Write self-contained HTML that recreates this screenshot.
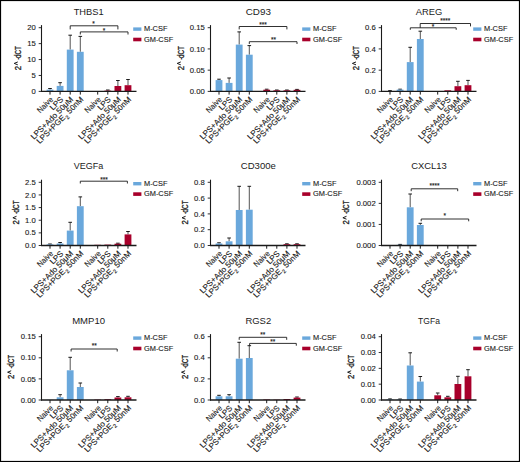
<!DOCTYPE html>
<html><head><meta charset="utf-8"><style>
html,body{margin:0;padding:0;background:#fff;}
svg{display:block;}
text{stroke:#1a1a1a;stroke-width:0.12px;}
g.yl text{stroke-width:0.3px;}
</style></head><body>
<svg width="520" height="462" viewBox="0 0 520 462" font-family='"Liberation Sans", sans-serif' fill="#1a1a1a">
<rect x="0" y="0" width="520" height="462" fill="#fff"/>
<g><text x="88.6" y="14.8" font-size="9.3" style="stroke:none" text-anchor="middle" textLength="29.9" lengthAdjust="spacingAndGlyphs">THBS1</text><g transform="translate(20.5,58.15) rotate(-90)" font-size="8.6" class="yl"><text x="-12" textLength="4.3" lengthAdjust="spacingAndGlyphs">2</text><path d="M-6.7,-2.7 L-5.25,-6.3 L-3.8,-2.7" fill="none" stroke="#1a1a1a" stroke-width="1"/><text x="-1.6" textLength="2" lengthAdjust="spacingAndGlyphs">-</text><text x="0.1" textLength="11.9" lengthAdjust="spacingAndGlyphs">dCT</text></g><line x1="38.7" y1="91.4" x2="41.5" y2="91.4" stroke="#1a1a1a" stroke-width="0.9"/><text x="35.7" y="94" font-size="7.7" text-anchor="end">0</text><line x1="38.7" y1="75.48" x2="41.5" y2="75.48" stroke="#1a1a1a" stroke-width="0.9"/><text x="35.7" y="78.08" font-size="7.7" text-anchor="end">5</text><line x1="38.7" y1="59.55" x2="41.5" y2="59.55" stroke="#1a1a1a" stroke-width="0.9"/><text x="35.7" y="62.15" font-size="7.7" text-anchor="end">10</text><line x1="38.7" y1="43.62" x2="41.5" y2="43.62" stroke="#1a1a1a" stroke-width="0.9"/><text x="35.7" y="46.23" font-size="7.7" text-anchor="end">15</text><line x1="38.7" y1="27.7" x2="41.5" y2="27.7" stroke="#1a1a1a" stroke-width="0.9"/><text x="35.7" y="30.3" font-size="7.7" text-anchor="end">20</text><line x1="50" y1="88.5" x2="50" y2="89.6" stroke="#1a1a1a" stroke-width="0.75"/><line x1="48.2" y1="88.5" x2="51.8" y2="88.5" stroke="#1a1a1a" stroke-width="1"/><rect x="46.6" y="89.6" width="6.8" height="1.8" fill="#6aa8dc"/><line x1="50" y1="91.4" x2="50" y2="94.6" stroke="#1a1a1a" stroke-width="1"/><text transform="translate(53.6,100) rotate(-45)" font-size="8.0" text-anchor="end"><tspan textLength="19" lengthAdjust="spacingAndGlyphs">Naive</tspan></text><line x1="60.1" y1="82.7" x2="60.1" y2="85.9" stroke="#1a1a1a" stroke-width="0.75"/><line x1="58.3" y1="82.7" x2="61.9" y2="82.7" stroke="#1a1a1a" stroke-width="1"/><rect x="56.7" y="85.9" width="6.8" height="5.5" fill="#6aa8dc"/><line x1="60.1" y1="91.4" x2="60.1" y2="94.6" stroke="#1a1a1a" stroke-width="1"/><text transform="translate(63.7,100) rotate(-45)" font-size="8.0" text-anchor="end">LPS</text><line x1="70.2" y1="35.2" x2="70.2" y2="49.6" stroke="#1a1a1a" stroke-width="0.75"/><line x1="68.4" y1="35.2" x2="72" y2="35.2" stroke="#1a1a1a" stroke-width="1"/><rect x="66.8" y="49.6" width="6.8" height="41.8" fill="#6aa8dc"/><line x1="70.2" y1="91.4" x2="70.2" y2="94.6" stroke="#1a1a1a" stroke-width="1"/><text transform="translate(73.8,100) rotate(-45)" font-size="8.0" text-anchor="end">LPS+Ado 50μM</text><line x1="80.3" y1="36.4" x2="80.3" y2="51.8" stroke="#1a1a1a" stroke-width="0.75"/><line x1="78.5" y1="36.4" x2="82.1" y2="36.4" stroke="#1a1a1a" stroke-width="1"/><rect x="76.9" y="51.8" width="6.8" height="39.6" fill="#6aa8dc"/><line x1="80.3" y1="91.4" x2="80.3" y2="94.6" stroke="#1a1a1a" stroke-width="1"/><text transform="translate(83.9,100) rotate(-45)" font-size="8.0" text-anchor="end">LPS+PGE<tspan font-size="5.6" dx="0.4" dy="2.4">2</tspan><tspan dy="-2.4"> 50nM</tspan></text><rect x="94.3" y="91" width="6.8" height="0.4" fill="#a8002b"/><line x1="97.7" y1="91.4" x2="97.7" y2="94.6" stroke="#1a1a1a" stroke-width="1"/><text transform="translate(101.3,100) rotate(-45)" font-size="8.0" text-anchor="end"><tspan textLength="19" lengthAdjust="spacingAndGlyphs">Naive</tspan></text><line x1="107.8" y1="90" x2="107.8" y2="90.6" stroke="#1a1a1a" stroke-width="0.75"/><line x1="106" y1="90" x2="109.6" y2="90" stroke="#1a1a1a" stroke-width="1"/><rect x="104.4" y="90.6" width="6.8" height="0.8" fill="#a8002b"/><line x1="107.8" y1="91.4" x2="107.8" y2="94.6" stroke="#1a1a1a" stroke-width="1"/><text transform="translate(111.4,100) rotate(-45)" font-size="8.0" text-anchor="end">LPS</text><line x1="117.9" y1="80.5" x2="117.9" y2="86" stroke="#1a1a1a" stroke-width="0.75"/><line x1="116.1" y1="80.5" x2="119.7" y2="80.5" stroke="#1a1a1a" stroke-width="1"/><rect x="114.5" y="86" width="6.8" height="5.4" fill="#a8002b"/><line x1="117.9" y1="91.4" x2="117.9" y2="94.6" stroke="#1a1a1a" stroke-width="1"/><text transform="translate(121.5,100) rotate(-45)" font-size="8.0" text-anchor="end">LPS+Ado 50μM</text><line x1="128" y1="79.5" x2="128" y2="85.2" stroke="#1a1a1a" stroke-width="0.75"/><line x1="126.2" y1="79.5" x2="129.8" y2="79.5" stroke="#1a1a1a" stroke-width="1"/><rect x="124.6" y="85.2" width="6.8" height="6.2" fill="#a8002b"/><line x1="128" y1="91.4" x2="128" y2="94.6" stroke="#1a1a1a" stroke-width="1"/><text transform="translate(131.6,100) rotate(-45)" font-size="8.0" text-anchor="end">LPS+PGE<tspan font-size="5.6" dx="0.4" dy="2.4">2</tspan><tspan dy="-2.4"> 50nM</tspan></text><line x1="41.5" y1="25.1" x2="41.5" y2="91.9" stroke="#1a1a1a" stroke-width="1.1"/><line x1="41" y1="91.4" x2="136.5" y2="91.4" stroke="#1a1a1a" stroke-width="1.35"/><path d="M70.2,29.4 L70.2,25.8 L117.9,25.8 L117.9,29.4" fill="none" stroke="#1a1a1a" stroke-width="0.9"/><text x="93.5" y="26" font-size="6.5" text-anchor="middle">*</text><path d="M80.3,34.5 L80.3,31.9 L128,31.9 L128,34.5" fill="none" stroke="#1a1a1a" stroke-width="0.9"/><text x="104.1" y="32.8" font-size="6.5" text-anchor="middle">*</text><rect x="133.2" y="27.4" width="8.2" height="3.4" fill="#6aa8dc"/><text x="144" y="31.1" font-size="7.4">M-CSF</text><rect x="133.2" y="37.7" width="8.2" height="3.6" fill="#a8002b"/><text x="144" y="41.6" font-size="7.4">GM-CSF</text></g>
<g><text x="258.3" y="14.8" font-size="9.3" style="stroke:none" text-anchor="middle" textLength="25.2" lengthAdjust="spacingAndGlyphs">CD93</text><g transform="translate(183.5,58.15) rotate(-90)" font-size="8.6" class="yl"><text x="-12" textLength="4.3" lengthAdjust="spacingAndGlyphs">2</text><path d="M-6.7,-2.7 L-5.25,-6.3 L-3.8,-2.7" fill="none" stroke="#1a1a1a" stroke-width="1"/><text x="-1.6" textLength="2" lengthAdjust="spacingAndGlyphs">-</text><text x="0.1" textLength="11.9" lengthAdjust="spacingAndGlyphs">dCT</text></g><line x1="207.7" y1="91.4" x2="210.5" y2="91.4" stroke="#1a1a1a" stroke-width="0.9"/><text x="204.7" y="94" font-size="7.7" text-anchor="end">0.00</text><line x1="207.7" y1="70.17" x2="210.5" y2="70.17" stroke="#1a1a1a" stroke-width="0.9"/><text x="204.7" y="72.77" font-size="7.7" text-anchor="end">0.05</text><line x1="207.7" y1="48.93" x2="210.5" y2="48.93" stroke="#1a1a1a" stroke-width="0.9"/><text x="204.7" y="51.53" font-size="7.7" text-anchor="end">0.10</text><line x1="207.7" y1="27.7" x2="210.5" y2="27.7" stroke="#1a1a1a" stroke-width="0.9"/><text x="204.7" y="30.3" font-size="7.7" text-anchor="end">0.15</text><line x1="219" y1="79.2" x2="219" y2="80.1" stroke="#1a1a1a" stroke-width="0.75"/><line x1="217.2" y1="79.2" x2="220.8" y2="79.2" stroke="#1a1a1a" stroke-width="1"/><rect x="215.6" y="80.1" width="6.8" height="11.3" fill="#6aa8dc"/><line x1="219" y1="91.4" x2="219" y2="94.6" stroke="#1a1a1a" stroke-width="1"/><text transform="translate(222.6,100) rotate(-45)" font-size="8.0" text-anchor="end"><tspan textLength="19" lengthAdjust="spacingAndGlyphs">Naive</tspan></text><line x1="229.1" y1="78" x2="229.1" y2="82.9" stroke="#1a1a1a" stroke-width="0.75"/><line x1="227.3" y1="78" x2="230.9" y2="78" stroke="#1a1a1a" stroke-width="1"/><rect x="225.7" y="82.9" width="6.8" height="8.5" fill="#6aa8dc"/><line x1="229.1" y1="91.4" x2="229.1" y2="94.6" stroke="#1a1a1a" stroke-width="1"/><text transform="translate(232.7,100) rotate(-45)" font-size="8.0" text-anchor="end">LPS</text><line x1="239.2" y1="31.9" x2="239.2" y2="44.6" stroke="#1a1a1a" stroke-width="0.75"/><line x1="237.4" y1="31.9" x2="241" y2="31.9" stroke="#1a1a1a" stroke-width="1"/><rect x="235.8" y="44.6" width="6.8" height="46.8" fill="#6aa8dc"/><line x1="239.2" y1="91.4" x2="239.2" y2="94.6" stroke="#1a1a1a" stroke-width="1"/><text transform="translate(242.8,100) rotate(-45)" font-size="8.0" text-anchor="end">LPS+Ado 50μM</text><line x1="249.3" y1="45.6" x2="249.3" y2="54.7" stroke="#1a1a1a" stroke-width="0.75"/><line x1="247.5" y1="45.6" x2="251.1" y2="45.6" stroke="#1a1a1a" stroke-width="1"/><rect x="245.9" y="54.7" width="6.8" height="36.7" fill="#6aa8dc"/><line x1="249.3" y1="91.4" x2="249.3" y2="94.6" stroke="#1a1a1a" stroke-width="1"/><text transform="translate(252.9,100) rotate(-45)" font-size="8.0" text-anchor="end">LPS+PGE<tspan font-size="5.6" dx="0.4" dy="2.4">2</tspan><tspan dy="-2.4"> 50nM</tspan></text><line x1="266.7" y1="89.2" x2="266.7" y2="89.7" stroke="#1a1a1a" stroke-width="0.75"/><line x1="264.9" y1="89.2" x2="268.5" y2="89.2" stroke="#1a1a1a" stroke-width="1"/><rect x="263.3" y="89.7" width="6.8" height="1.7" fill="#a8002b"/><line x1="266.7" y1="91.4" x2="266.7" y2="94.6" stroke="#1a1a1a" stroke-width="1"/><text transform="translate(270.3,100) rotate(-45)" font-size="8.0" text-anchor="end"><tspan textLength="19" lengthAdjust="spacingAndGlyphs">Naive</tspan></text><line x1="276.8" y1="90" x2="276.8" y2="90.3" stroke="#1a1a1a" stroke-width="0.75"/><line x1="275" y1="90" x2="278.6" y2="90" stroke="#1a1a1a" stroke-width="1"/><rect x="273.4" y="90.3" width="6.8" height="1.1" fill="#a8002b"/><line x1="276.8" y1="91.4" x2="276.8" y2="94.6" stroke="#1a1a1a" stroke-width="1"/><text transform="translate(280.4,100) rotate(-45)" font-size="8.0" text-anchor="end">LPS</text><line x1="286.9" y1="90" x2="286.9" y2="90.3" stroke="#1a1a1a" stroke-width="0.75"/><line x1="285.1" y1="90" x2="288.7" y2="90" stroke="#1a1a1a" stroke-width="1"/><rect x="283.5" y="90.3" width="6.8" height="1.1" fill="#a8002b"/><line x1="286.9" y1="91.4" x2="286.9" y2="94.6" stroke="#1a1a1a" stroke-width="1"/><text transform="translate(290.5,100) rotate(-45)" font-size="8.0" text-anchor="end">LPS+Ado 50μM</text><line x1="297" y1="89.4" x2="297" y2="89.8" stroke="#1a1a1a" stroke-width="0.75"/><line x1="295.2" y1="89.4" x2="298.8" y2="89.4" stroke="#1a1a1a" stroke-width="1"/><rect x="293.6" y="89.8" width="6.8" height="1.6" fill="#a8002b"/><line x1="297" y1="91.4" x2="297" y2="94.6" stroke="#1a1a1a" stroke-width="1"/><text transform="translate(300.6,100) rotate(-45)" font-size="8.0" text-anchor="end">LPS+PGE<tspan font-size="5.6" dx="0.4" dy="2.4">2</tspan><tspan dy="-2.4"> 50nM</tspan></text><line x1="210.5" y1="25.1" x2="210.5" y2="91.9" stroke="#1a1a1a" stroke-width="1.1"/><line x1="210" y1="91.4" x2="305.5" y2="91.4" stroke="#1a1a1a" stroke-width="1.35"/><path d="M239.2,29.4 L239.2,26.5 L286.9,26.5 L286.9,29.4" fill="none" stroke="#1a1a1a" stroke-width="0.9"/><text x="263" y="27" font-size="6.5" text-anchor="middle">***</text><path d="M249.3,44 L249.3,41.7 L297,41.7 L297,44" fill="none" stroke="#1a1a1a" stroke-width="0.9"/><text x="273.6" y="42" font-size="6.5" text-anchor="middle">**</text><rect x="302.2" y="27.4" width="8.2" height="3.4" fill="#6aa8dc"/><text x="313" y="31.1" font-size="7.4">M-CSF</text><rect x="302.2" y="37.7" width="8.2" height="3.6" fill="#a8002b"/><text x="313" y="41.6" font-size="7.4">GM-CSF</text></g>
<g><text x="429" y="14.8" font-size="9.3" style="stroke:none" text-anchor="middle" textLength="26.5" lengthAdjust="spacingAndGlyphs">AREG</text><g transform="translate(358.7,58.15) rotate(-90)" font-size="8.6" class="yl"><text x="-12" textLength="4.3" lengthAdjust="spacingAndGlyphs">2</text><path d="M-6.7,-2.7 L-5.25,-6.3 L-3.8,-2.7" fill="none" stroke="#1a1a1a" stroke-width="1"/><text x="-1.6" textLength="2" lengthAdjust="spacingAndGlyphs">-</text><text x="0.1" textLength="11.9" lengthAdjust="spacingAndGlyphs">dCT</text></g><line x1="378.7" y1="91.4" x2="381.5" y2="91.4" stroke="#1a1a1a" stroke-width="0.9"/><text x="375.7" y="94" font-size="7.7" text-anchor="end">0.0</text><line x1="378.7" y1="70.17" x2="381.5" y2="70.17" stroke="#1a1a1a" stroke-width="0.9"/><text x="375.7" y="72.77" font-size="7.7" text-anchor="end">0.2</text><line x1="378.7" y1="48.93" x2="381.5" y2="48.93" stroke="#1a1a1a" stroke-width="0.9"/><text x="375.7" y="51.53" font-size="7.7" text-anchor="end">0.4</text><line x1="378.7" y1="27.7" x2="381.5" y2="27.7" stroke="#1a1a1a" stroke-width="0.9"/><text x="375.7" y="30.3" font-size="7.7" text-anchor="end">0.6</text><line x1="390" y1="90.6" x2="390" y2="91" stroke="#1a1a1a" stroke-width="0.75"/><line x1="388.2" y1="90.6" x2="391.8" y2="90.6" stroke="#1a1a1a" stroke-width="1"/><rect x="386.6" y="91" width="6.8" height="0.4" fill="#6aa8dc"/><line x1="390" y1="91.4" x2="390" y2="94.6" stroke="#1a1a1a" stroke-width="1"/><text transform="translate(393.6,100) rotate(-45)" font-size="8.0" text-anchor="end"><tspan textLength="19" lengthAdjust="spacingAndGlyphs">Naive</tspan></text><line x1="400.1" y1="89.2" x2="400.1" y2="89.6" stroke="#1a1a1a" stroke-width="0.75"/><line x1="398.3" y1="89.2" x2="401.9" y2="89.2" stroke="#1a1a1a" stroke-width="1"/><rect x="396.7" y="89.6" width="6.8" height="1.8" fill="#6aa8dc"/><line x1="400.1" y1="91.4" x2="400.1" y2="94.6" stroke="#1a1a1a" stroke-width="1"/><text transform="translate(403.7,100) rotate(-45)" font-size="8.0" text-anchor="end">LPS</text><line x1="410.2" y1="47.3" x2="410.2" y2="62.1" stroke="#1a1a1a" stroke-width="0.75"/><line x1="408.4" y1="47.3" x2="412" y2="47.3" stroke="#1a1a1a" stroke-width="1"/><rect x="406.8" y="62.1" width="6.8" height="29.3" fill="#6aa8dc"/><line x1="410.2" y1="91.4" x2="410.2" y2="94.6" stroke="#1a1a1a" stroke-width="1"/><text transform="translate(413.8,100) rotate(-45)" font-size="8.0" text-anchor="end">LPS+Ado 50μM</text><line x1="420.3" y1="31.2" x2="420.3" y2="39" stroke="#1a1a1a" stroke-width="0.75"/><line x1="418.5" y1="31.2" x2="422.1" y2="31.2" stroke="#1a1a1a" stroke-width="1"/><rect x="416.9" y="39" width="6.8" height="52.4" fill="#6aa8dc"/><line x1="420.3" y1="91.4" x2="420.3" y2="94.6" stroke="#1a1a1a" stroke-width="1"/><text transform="translate(423.9,100) rotate(-45)" font-size="8.0" text-anchor="end">LPS+PGE<tspan font-size="5.6" dx="0.4" dy="2.4">2</tspan><tspan dy="-2.4"> 50nM</tspan></text><rect x="434.3" y="91" width="6.8" height="0.4" fill="#a8002b"/><line x1="437.7" y1="91.4" x2="437.7" y2="94.6" stroke="#1a1a1a" stroke-width="1"/><text transform="translate(441.3,100) rotate(-45)" font-size="8.0" text-anchor="end"><tspan textLength="19" lengthAdjust="spacingAndGlyphs">Naive</tspan></text><rect x="444.4" y="90.3" width="6.8" height="1.1" fill="#a8002b"/><line x1="447.8" y1="91.4" x2="447.8" y2="94.6" stroke="#1a1a1a" stroke-width="1"/><text transform="translate(451.4,100) rotate(-45)" font-size="8.0" text-anchor="end">LPS</text><line x1="457.9" y1="81.3" x2="457.9" y2="86.2" stroke="#1a1a1a" stroke-width="0.75"/><line x1="456.1" y1="81.3" x2="459.7" y2="81.3" stroke="#1a1a1a" stroke-width="1"/><rect x="454.5" y="86.2" width="6.8" height="5.2" fill="#a8002b"/><line x1="457.9" y1="91.4" x2="457.9" y2="94.6" stroke="#1a1a1a" stroke-width="1"/><text transform="translate(461.5,100) rotate(-45)" font-size="8.0" text-anchor="end">LPS+Ado 50μM</text><line x1="468" y1="80.4" x2="468" y2="85.2" stroke="#1a1a1a" stroke-width="0.75"/><line x1="466.2" y1="80.4" x2="469.8" y2="80.4" stroke="#1a1a1a" stroke-width="1"/><rect x="464.6" y="85.2" width="6.8" height="6.2" fill="#a8002b"/><line x1="468" y1="91.4" x2="468" y2="94.6" stroke="#1a1a1a" stroke-width="1"/><text transform="translate(471.6,100) rotate(-45)" font-size="8.0" text-anchor="end">LPS+PGE<tspan font-size="5.6" dx="0.4" dy="2.4">2</tspan><tspan dy="-2.4"> 50nM</tspan></text><line x1="381.5" y1="25.1" x2="381.5" y2="91.9" stroke="#1a1a1a" stroke-width="1.1"/><line x1="381" y1="91.4" x2="476.5" y2="91.4" stroke="#1a1a1a" stroke-width="1.35"/><path d="M420.2,27.8 L420.2,23.5 L470.5,23.5 L470.5,26.4" fill="none" stroke="#1a1a1a" stroke-width="0.9"/><text x="445.3" y="23.4" font-size="6.5" text-anchor="middle">****</text><path d="M410.3,29.8 L410.3,27.8 L456.2,27.8 L456.2,29.8" fill="none" stroke="#1a1a1a" stroke-width="0.9"/><text x="433.1" y="29" font-size="6.5" text-anchor="middle">*</text><rect x="473.2" y="27.4" width="8.2" height="3.4" fill="#6aa8dc"/><text x="484" y="31.1" font-size="7.4">M-CSF</text><rect x="473.2" y="37.7" width="8.2" height="3.6" fill="#a8002b"/><text x="484" y="41.6" font-size="7.4">GM-CSF</text></g>
<g><text x="88.6" y="169.4" font-size="9.3" style="stroke:none" text-anchor="middle" textLength="29.5" lengthAdjust="spacingAndGlyphs">VEGFa</text><g transform="translate(19.2,212.5) rotate(-90)" font-size="8.6" class="yl"><text x="-12" textLength="4.3" lengthAdjust="spacingAndGlyphs">2</text><path d="M-6.7,-2.7 L-5.25,-6.3 L-3.8,-2.7" fill="none" stroke="#1a1a1a" stroke-width="1"/><text x="-1.6" textLength="2" lengthAdjust="spacingAndGlyphs">-</text><text x="0.1" textLength="11.9" lengthAdjust="spacingAndGlyphs">dCT</text></g><line x1="38.7" y1="245.5" x2="41.5" y2="245.5" stroke="#1a1a1a" stroke-width="0.9"/><text x="35.7" y="248.1" font-size="7.7" text-anchor="end">0.0</text><line x1="38.7" y1="232.86" x2="41.5" y2="232.86" stroke="#1a1a1a" stroke-width="0.9"/><text x="35.7" y="235.46" font-size="7.7" text-anchor="end">0.5</text><line x1="38.7" y1="220.22" x2="41.5" y2="220.22" stroke="#1a1a1a" stroke-width="0.9"/><text x="35.7" y="222.82" font-size="7.7" text-anchor="end">1.0</text><line x1="38.7" y1="207.58" x2="41.5" y2="207.58" stroke="#1a1a1a" stroke-width="0.9"/><text x="35.7" y="210.18" font-size="7.7" text-anchor="end">1.5</text><line x1="38.7" y1="194.94" x2="41.5" y2="194.94" stroke="#1a1a1a" stroke-width="0.9"/><text x="35.7" y="197.54" font-size="7.7" text-anchor="end">2.0</text><line x1="38.7" y1="182.3" x2="41.5" y2="182.3" stroke="#1a1a1a" stroke-width="0.9"/><text x="35.7" y="184.9" font-size="7.7" text-anchor="end">2.5</text><line x1="50" y1="244" x2="50" y2="244.4" stroke="#1a1a1a" stroke-width="0.75"/><line x1="48.2" y1="244" x2="51.8" y2="244" stroke="#1a1a1a" stroke-width="1"/><rect x="46.6" y="244.4" width="6.8" height="1.1" fill="#6aa8dc"/><line x1="50" y1="245.5" x2="50" y2="248.7" stroke="#1a1a1a" stroke-width="1"/><text transform="translate(53.6,254.1) rotate(-45)" font-size="8.0" text-anchor="end"><tspan textLength="19" lengthAdjust="spacingAndGlyphs">Naive</tspan></text><line x1="60.1" y1="242.5" x2="60.1" y2="243.5" stroke="#1a1a1a" stroke-width="0.75"/><line x1="58.3" y1="242.5" x2="61.9" y2="242.5" stroke="#1a1a1a" stroke-width="1"/><rect x="56.7" y="243.5" width="6.8" height="2" fill="#6aa8dc"/><line x1="60.1" y1="245.5" x2="60.1" y2="248.7" stroke="#1a1a1a" stroke-width="1"/><text transform="translate(63.7,254.1) rotate(-45)" font-size="8.0" text-anchor="end">LPS</text><line x1="70.2" y1="222.3" x2="70.2" y2="230.6" stroke="#1a1a1a" stroke-width="0.75"/><line x1="68.4" y1="222.3" x2="72" y2="222.3" stroke="#1a1a1a" stroke-width="1"/><rect x="66.8" y="230.6" width="6.8" height="14.9" fill="#6aa8dc"/><line x1="70.2" y1="245.5" x2="70.2" y2="248.7" stroke="#1a1a1a" stroke-width="1"/><text transform="translate(73.8,254.1) rotate(-45)" font-size="8.0" text-anchor="end">LPS+Ado 50μM</text><line x1="80.3" y1="196.9" x2="80.3" y2="206.2" stroke="#1a1a1a" stroke-width="0.75"/><line x1="78.5" y1="196.9" x2="82.1" y2="196.9" stroke="#1a1a1a" stroke-width="1"/><rect x="76.9" y="206.2" width="6.8" height="39.3" fill="#6aa8dc"/><line x1="80.3" y1="245.5" x2="80.3" y2="248.7" stroke="#1a1a1a" stroke-width="1"/><text transform="translate(83.9,254.1) rotate(-45)" font-size="8.0" text-anchor="end">LPS+PGE<tspan font-size="5.6" dx="0.4" dy="2.4">2</tspan><tspan dy="-2.4"> 50nM</tspan></text><rect x="94.3" y="244.8" width="6.8" height="0.7" fill="#a8002b"/><line x1="97.7" y1="245.5" x2="97.7" y2="248.7" stroke="#1a1a1a" stroke-width="1"/><text transform="translate(101.3,254.1) rotate(-45)" font-size="8.0" text-anchor="end"><tspan textLength="19" lengthAdjust="spacingAndGlyphs">Naive</tspan></text><rect x="104.4" y="244.6" width="6.8" height="0.9" fill="#a8002b"/><line x1="107.8" y1="245.5" x2="107.8" y2="248.7" stroke="#1a1a1a" stroke-width="1"/><text transform="translate(111.4,254.1) rotate(-45)" font-size="8.0" text-anchor="end">LPS</text><line x1="117.9" y1="243.2" x2="117.9" y2="243.7" stroke="#1a1a1a" stroke-width="0.75"/><line x1="116.1" y1="243.2" x2="119.7" y2="243.2" stroke="#1a1a1a" stroke-width="1"/><rect x="114.5" y="243.7" width="6.8" height="1.8" fill="#a8002b"/><line x1="117.9" y1="245.5" x2="117.9" y2="248.7" stroke="#1a1a1a" stroke-width="1"/><text transform="translate(121.5,254.1) rotate(-45)" font-size="8.0" text-anchor="end">LPS+Ado 50μM</text><line x1="128" y1="231.5" x2="128" y2="234.4" stroke="#1a1a1a" stroke-width="0.75"/><line x1="126.2" y1="231.5" x2="129.8" y2="231.5" stroke="#1a1a1a" stroke-width="1"/><rect x="124.6" y="234.4" width="6.8" height="11.1" fill="#a8002b"/><line x1="128" y1="245.5" x2="128" y2="248.7" stroke="#1a1a1a" stroke-width="1"/><text transform="translate(131.6,254.1) rotate(-45)" font-size="8.0" text-anchor="end">LPS+PGE<tspan font-size="5.6" dx="0.4" dy="2.4">2</tspan><tspan dy="-2.4"> 50nM</tspan></text><line x1="41.5" y1="179.7" x2="41.5" y2="246" stroke="#1a1a1a" stroke-width="1.1"/><line x1="41" y1="245.5" x2="136.5" y2="245.5" stroke="#1a1a1a" stroke-width="1.35"/><path d="M80.3,183.5 L80.3,181.2 L127.4,181.2 L127.4,183.5" fill="none" stroke="#1a1a1a" stroke-width="0.9"/><text x="104" y="181.8" font-size="6.5" text-anchor="middle">***</text><rect x="133.2" y="182" width="8.2" height="3.4" fill="#6aa8dc"/><text x="144" y="185.7" font-size="7.4">M-CSF</text><rect x="133.2" y="192.3" width="8.2" height="3.6" fill="#a8002b"/><text x="144" y="196.2" font-size="7.4">GM-CSF</text></g>
<g><text x="258.3" y="169.4" font-size="9.3" style="stroke:none" text-anchor="middle" textLength="35.1" lengthAdjust="spacingAndGlyphs">CD300e</text><g transform="translate(188.3,212.5) rotate(-90)" font-size="8.6" class="yl"><text x="-12" textLength="4.3" lengthAdjust="spacingAndGlyphs">2</text><path d="M-6.7,-2.7 L-5.25,-6.3 L-3.8,-2.7" fill="none" stroke="#1a1a1a" stroke-width="1"/><text x="-1.6" textLength="2" lengthAdjust="spacingAndGlyphs">-</text><text x="0.1" textLength="11.9" lengthAdjust="spacingAndGlyphs">dCT</text></g><line x1="207.7" y1="245.5" x2="210.5" y2="245.5" stroke="#1a1a1a" stroke-width="0.9"/><text x="204.7" y="248.1" font-size="7.7" text-anchor="end">0.0</text><line x1="207.7" y1="229.7" x2="210.5" y2="229.7" stroke="#1a1a1a" stroke-width="0.9"/><text x="204.7" y="232.3" font-size="7.7" text-anchor="end">0.2</text><line x1="207.7" y1="213.9" x2="210.5" y2="213.9" stroke="#1a1a1a" stroke-width="0.9"/><text x="204.7" y="216.5" font-size="7.7" text-anchor="end">0.4</text><line x1="207.7" y1="198.1" x2="210.5" y2="198.1" stroke="#1a1a1a" stroke-width="0.9"/><text x="204.7" y="200.7" font-size="7.7" text-anchor="end">0.6</text><line x1="207.7" y1="182.3" x2="210.5" y2="182.3" stroke="#1a1a1a" stroke-width="0.9"/><text x="204.7" y="184.9" font-size="7.7" text-anchor="end">0.8</text><line x1="219" y1="242.8" x2="219" y2="243.5" stroke="#1a1a1a" stroke-width="0.75"/><line x1="217.2" y1="242.8" x2="220.8" y2="242.8" stroke="#1a1a1a" stroke-width="1"/><rect x="215.6" y="243.5" width="6.8" height="2" fill="#6aa8dc"/><line x1="219" y1="245.5" x2="219" y2="248.7" stroke="#1a1a1a" stroke-width="1"/><text transform="translate(222.6,254.1) rotate(-45)" font-size="8.0" text-anchor="end"><tspan textLength="19" lengthAdjust="spacingAndGlyphs">Naive</tspan></text><line x1="229.1" y1="238" x2="229.1" y2="241.3" stroke="#1a1a1a" stroke-width="0.75"/><line x1="227.3" y1="238" x2="230.9" y2="238" stroke="#1a1a1a" stroke-width="1"/><rect x="225.7" y="241.3" width="6.8" height="4.2" fill="#6aa8dc"/><line x1="229.1" y1="245.5" x2="229.1" y2="248.7" stroke="#1a1a1a" stroke-width="1"/><text transform="translate(232.7,254.1) rotate(-45)" font-size="8.0" text-anchor="end">LPS</text><line x1="239.2" y1="186.3" x2="239.2" y2="210" stroke="#1a1a1a" stroke-width="0.75"/><line x1="237.4" y1="186.3" x2="241" y2="186.3" stroke="#1a1a1a" stroke-width="1"/><rect x="235.8" y="210" width="6.8" height="35.5" fill="#6aa8dc"/><line x1="239.2" y1="245.5" x2="239.2" y2="248.7" stroke="#1a1a1a" stroke-width="1"/><text transform="translate(242.8,254.1) rotate(-45)" font-size="8.0" text-anchor="end">LPS+Ado 50μM</text><line x1="249.3" y1="186.3" x2="249.3" y2="209.7" stroke="#1a1a1a" stroke-width="0.75"/><line x1="247.5" y1="186.3" x2="251.1" y2="186.3" stroke="#1a1a1a" stroke-width="1"/><rect x="245.9" y="209.7" width="6.8" height="35.8" fill="#6aa8dc"/><line x1="249.3" y1="245.5" x2="249.3" y2="248.7" stroke="#1a1a1a" stroke-width="1"/><text transform="translate(252.9,254.1) rotate(-45)" font-size="8.0" text-anchor="end">LPS+PGE<tspan font-size="5.6" dx="0.4" dy="2.4">2</tspan><tspan dy="-2.4"> 50nM</tspan></text><rect x="263.3" y="245.2" width="6.8" height="0.3" fill="#a8002b"/><line x1="266.7" y1="245.5" x2="266.7" y2="248.7" stroke="#1a1a1a" stroke-width="1"/><text transform="translate(270.3,254.1) rotate(-45)" font-size="8.0" text-anchor="end"><tspan textLength="19" lengthAdjust="spacingAndGlyphs">Naive</tspan></text><rect x="273.4" y="245.2" width="6.8" height="0.3" fill="#a8002b"/><line x1="276.8" y1="245.5" x2="276.8" y2="248.7" stroke="#1a1a1a" stroke-width="1"/><text transform="translate(280.4,254.1) rotate(-45)" font-size="8.0" text-anchor="end">LPS</text><line x1="286.9" y1="243.8" x2="286.9" y2="244.2" stroke="#1a1a1a" stroke-width="0.75"/><line x1="285.1" y1="243.8" x2="288.7" y2="243.8" stroke="#1a1a1a" stroke-width="1"/><rect x="283.5" y="244.2" width="6.8" height="1.3" fill="#a8002b"/><line x1="286.9" y1="245.5" x2="286.9" y2="248.7" stroke="#1a1a1a" stroke-width="1"/><text transform="translate(290.5,254.1) rotate(-45)" font-size="8.0" text-anchor="end">LPS+Ado 50μM</text><line x1="297" y1="243.8" x2="297" y2="244.2" stroke="#1a1a1a" stroke-width="0.75"/><line x1="295.2" y1="243.8" x2="298.8" y2="243.8" stroke="#1a1a1a" stroke-width="1"/><rect x="293.6" y="244.2" width="6.8" height="1.3" fill="#a8002b"/><line x1="297" y1="245.5" x2="297" y2="248.7" stroke="#1a1a1a" stroke-width="1"/><text transform="translate(300.6,254.1) rotate(-45)" font-size="8.0" text-anchor="end">LPS+PGE<tspan font-size="5.6" dx="0.4" dy="2.4">2</tspan><tspan dy="-2.4"> 50nM</tspan></text><line x1="210.5" y1="179.7" x2="210.5" y2="246" stroke="#1a1a1a" stroke-width="1.1"/><line x1="210" y1="245.5" x2="305.5" y2="245.5" stroke="#1a1a1a" stroke-width="1.35"/><rect x="302.2" y="182" width="8.2" height="3.4" fill="#6aa8dc"/><text x="313" y="185.7" font-size="7.4">M-CSF</text><rect x="302.2" y="192.3" width="8.2" height="3.6" fill="#a8002b"/><text x="313" y="196.2" font-size="7.4">GM-CSF</text></g>
<g><text x="429" y="169.4" font-size="9.3" style="stroke:none" text-anchor="middle" textLength="35.7" lengthAdjust="spacingAndGlyphs">CXCL13</text><g transform="translate(349.2,212.5) rotate(-90)" font-size="8.6" class="yl"><text x="-12" textLength="4.3" lengthAdjust="spacingAndGlyphs">2</text><path d="M-6.7,-2.7 L-5.25,-6.3 L-3.8,-2.7" fill="none" stroke="#1a1a1a" stroke-width="1"/><text x="-1.6" textLength="2" lengthAdjust="spacingAndGlyphs">-</text><text x="0.1" textLength="11.9" lengthAdjust="spacingAndGlyphs">dCT</text></g><line x1="378.7" y1="245.5" x2="381.5" y2="245.5" stroke="#1a1a1a" stroke-width="0.9"/><text x="375.7" y="248.1" font-size="7.7" text-anchor="end">0.000</text><line x1="378.7" y1="224.43" x2="381.5" y2="224.43" stroke="#1a1a1a" stroke-width="0.9"/><text x="375.7" y="227.03" font-size="7.7" text-anchor="end">0.001</text><line x1="378.7" y1="203.37" x2="381.5" y2="203.37" stroke="#1a1a1a" stroke-width="0.9"/><text x="375.7" y="205.97" font-size="7.7" text-anchor="end">0.002</text><line x1="378.7" y1="182.3" x2="381.5" y2="182.3" stroke="#1a1a1a" stroke-width="0.9"/><text x="375.7" y="184.9" font-size="7.7" text-anchor="end">0.003</text><rect x="386.6" y="245.3" width="6.8" height="0.2" fill="#6aa8dc"/><line x1="390" y1="245.5" x2="390" y2="248.7" stroke="#1a1a1a" stroke-width="1"/><text transform="translate(393.6,254.1) rotate(-45)" font-size="8.0" text-anchor="end"><tspan textLength="19" lengthAdjust="spacingAndGlyphs">Naive</tspan></text><line x1="400.1" y1="244.4" x2="400.1" y2="244.8" stroke="#1a1a1a" stroke-width="0.75"/><line x1="398.3" y1="244.4" x2="401.9" y2="244.4" stroke="#1a1a1a" stroke-width="1"/><rect x="396.7" y="244.8" width="6.8" height="0.7" fill="#6aa8dc"/><line x1="400.1" y1="245.5" x2="400.1" y2="248.7" stroke="#1a1a1a" stroke-width="1"/><text transform="translate(403.7,254.1) rotate(-45)" font-size="8.0" text-anchor="end">LPS</text><line x1="410.2" y1="194" x2="410.2" y2="207.3" stroke="#1a1a1a" stroke-width="0.75"/><line x1="408.4" y1="194" x2="412" y2="194" stroke="#1a1a1a" stroke-width="1"/><rect x="406.8" y="207.3" width="6.8" height="38.2" fill="#6aa8dc"/><line x1="410.2" y1="245.5" x2="410.2" y2="248.7" stroke="#1a1a1a" stroke-width="1"/><text transform="translate(413.8,254.1) rotate(-45)" font-size="8.0" text-anchor="end">LPS+Ado 50μM</text><line x1="420.3" y1="223.3" x2="420.3" y2="225" stroke="#1a1a1a" stroke-width="0.75"/><line x1="418.5" y1="223.3" x2="422.1" y2="223.3" stroke="#1a1a1a" stroke-width="1"/><rect x="416.9" y="225" width="6.8" height="20.5" fill="#6aa8dc"/><line x1="420.3" y1="245.5" x2="420.3" y2="248.7" stroke="#1a1a1a" stroke-width="1"/><text transform="translate(423.9,254.1) rotate(-45)" font-size="8.0" text-anchor="end">LPS+PGE<tspan font-size="5.6" dx="0.4" dy="2.4">2</tspan><tspan dy="-2.4"> 50nM</tspan></text><rect x="434.3" y="245.3" width="6.8" height="0.2" fill="#a8002b"/><line x1="437.7" y1="245.5" x2="437.7" y2="248.7" stroke="#1a1a1a" stroke-width="1"/><text transform="translate(441.3,254.1) rotate(-45)" font-size="8.0" text-anchor="end"><tspan textLength="19" lengthAdjust="spacingAndGlyphs">Naive</tspan></text><rect x="444.4" y="245.3" width="6.8" height="0.2" fill="#a8002b"/><line x1="447.8" y1="245.5" x2="447.8" y2="248.7" stroke="#1a1a1a" stroke-width="1"/><text transform="translate(451.4,254.1) rotate(-45)" font-size="8.0" text-anchor="end">LPS</text><rect x="454.5" y="245" width="6.8" height="0.5" fill="#a8002b"/><line x1="457.9" y1="245.5" x2="457.9" y2="248.7" stroke="#1a1a1a" stroke-width="1"/><text transform="translate(461.5,254.1) rotate(-45)" font-size="8.0" text-anchor="end">LPS+Ado 50μM</text><rect x="464.6" y="245" width="6.8" height="0.5" fill="#a8002b"/><line x1="468" y1="245.5" x2="468" y2="248.7" stroke="#1a1a1a" stroke-width="1"/><text transform="translate(471.6,254.1) rotate(-45)" font-size="8.0" text-anchor="end">LPS+PGE<tspan font-size="5.6" dx="0.4" dy="2.4">2</tspan><tspan dy="-2.4"> 50nM</tspan></text><line x1="381.5" y1="179.7" x2="381.5" y2="246" stroke="#1a1a1a" stroke-width="1.1"/><line x1="381" y1="245.5" x2="476.5" y2="245.5" stroke="#1a1a1a" stroke-width="1.35"/><path d="M411.2,191.2 L411.2,188.8 L457.7,188.8 L457.7,191.2" fill="none" stroke="#1a1a1a" stroke-width="0.9"/><text x="434.5" y="188.3" font-size="6.5" text-anchor="middle">****</text><path d="M421.2,221.3 L421.2,219 L468.7,219 L468.7,221.3" fill="none" stroke="#1a1a1a" stroke-width="0.9"/><text x="444.8" y="218.3" font-size="6.5" text-anchor="middle">*</text><rect x="473.2" y="182" width="8.2" height="3.4" fill="#6aa8dc"/><text x="484" y="185.7" font-size="7.4">M-CSF</text><rect x="473.2" y="192.3" width="8.2" height="3.6" fill="#a8002b"/><text x="484" y="196.2" font-size="7.4">GM-CSF</text></g>
<g><text x="88.6" y="323.8" font-size="9.3" style="stroke:none" text-anchor="middle" textLength="32.8" lengthAdjust="spacingAndGlyphs">MMP10</text><g transform="translate(13.9,366.95) rotate(-90)" font-size="8.6" class="yl"><text x="-12" textLength="4.3" lengthAdjust="spacingAndGlyphs">2</text><path d="M-6.7,-2.7 L-5.25,-6.3 L-3.8,-2.7" fill="none" stroke="#1a1a1a" stroke-width="1"/><text x="-1.6" textLength="2" lengthAdjust="spacingAndGlyphs">-</text><text x="0.1" textLength="11.9" lengthAdjust="spacingAndGlyphs">dCT</text></g><line x1="38.7" y1="400" x2="41.5" y2="400" stroke="#1a1a1a" stroke-width="0.9"/><text x="35.7" y="402.6" font-size="7.7" text-anchor="end">0.00</text><line x1="38.7" y1="378.9" x2="41.5" y2="378.9" stroke="#1a1a1a" stroke-width="0.9"/><text x="35.7" y="381.5" font-size="7.7" text-anchor="end">0.05</text><line x1="38.7" y1="357.8" x2="41.5" y2="357.8" stroke="#1a1a1a" stroke-width="0.9"/><text x="35.7" y="360.4" font-size="7.7" text-anchor="end">0.10</text><line x1="38.7" y1="336.7" x2="41.5" y2="336.7" stroke="#1a1a1a" stroke-width="0.9"/><text x="35.7" y="339.3" font-size="7.7" text-anchor="end">0.15</text><rect x="46.6" y="399.8" width="6.8" height="0.2" fill="#6aa8dc"/><line x1="50" y1="400" x2="50" y2="403.2" stroke="#1a1a1a" stroke-width="1"/><text transform="translate(53.6,408.6) rotate(-45)" font-size="8.0" text-anchor="end"><tspan textLength="19" lengthAdjust="spacingAndGlyphs">Naive</tspan></text><line x1="60.1" y1="394.7" x2="60.1" y2="397.3" stroke="#1a1a1a" stroke-width="0.75"/><line x1="58.3" y1="394.7" x2="61.9" y2="394.7" stroke="#1a1a1a" stroke-width="1"/><rect x="56.7" y="397.3" width="6.8" height="2.7" fill="#6aa8dc"/><line x1="60.1" y1="400" x2="60.1" y2="403.2" stroke="#1a1a1a" stroke-width="1"/><text transform="translate(63.7,408.6) rotate(-45)" font-size="8.0" text-anchor="end">LPS</text><line x1="70.2" y1="357.3" x2="70.2" y2="370.3" stroke="#1a1a1a" stroke-width="0.75"/><line x1="68.4" y1="357.3" x2="72" y2="357.3" stroke="#1a1a1a" stroke-width="1"/><rect x="66.8" y="370.3" width="6.8" height="29.7" fill="#6aa8dc"/><line x1="70.2" y1="400" x2="70.2" y2="403.2" stroke="#1a1a1a" stroke-width="1"/><text transform="translate(73.8,408.6) rotate(-45)" font-size="8.0" text-anchor="end">LPS+Ado 50μM</text><line x1="80.3" y1="383" x2="80.3" y2="387" stroke="#1a1a1a" stroke-width="0.75"/><line x1="78.5" y1="383" x2="82.1" y2="383" stroke="#1a1a1a" stroke-width="1"/><rect x="76.9" y="387" width="6.8" height="13" fill="#6aa8dc"/><line x1="80.3" y1="400" x2="80.3" y2="403.2" stroke="#1a1a1a" stroke-width="1"/><text transform="translate(83.9,408.6) rotate(-45)" font-size="8.0" text-anchor="end">LPS+PGE<tspan font-size="5.6" dx="0.4" dy="2.4">2</tspan><tspan dy="-2.4"> 50nM</tspan></text><rect x="94.3" y="399.6" width="6.8" height="0.4" fill="#a8002b"/><line x1="97.7" y1="400" x2="97.7" y2="403.2" stroke="#1a1a1a" stroke-width="1"/><text transform="translate(101.3,408.6) rotate(-45)" font-size="8.0" text-anchor="end"><tspan textLength="19" lengthAdjust="spacingAndGlyphs">Naive</tspan></text><rect x="104.4" y="399.2" width="6.8" height="0.8" fill="#a8002b"/><line x1="107.8" y1="400" x2="107.8" y2="403.2" stroke="#1a1a1a" stroke-width="1"/><text transform="translate(111.4,408.6) rotate(-45)" font-size="8.0" text-anchor="end">LPS</text><line x1="117.9" y1="396.6" x2="117.9" y2="397.5" stroke="#1a1a1a" stroke-width="0.75"/><line x1="116.1" y1="396.6" x2="119.7" y2="396.6" stroke="#1a1a1a" stroke-width="1"/><rect x="114.5" y="397.5" width="6.8" height="2.5" fill="#a8002b"/><line x1="117.9" y1="400" x2="117.9" y2="403.2" stroke="#1a1a1a" stroke-width="1"/><text transform="translate(121.5,408.6) rotate(-45)" font-size="8.0" text-anchor="end">LPS+Ado 50μM</text><line x1="128" y1="396.3" x2="128" y2="397.3" stroke="#1a1a1a" stroke-width="0.75"/><line x1="126.2" y1="396.3" x2="129.8" y2="396.3" stroke="#1a1a1a" stroke-width="1"/><rect x="124.6" y="397.3" width="6.8" height="2.7" fill="#a8002b"/><line x1="128" y1="400" x2="128" y2="403.2" stroke="#1a1a1a" stroke-width="1"/><text transform="translate(131.6,408.6) rotate(-45)" font-size="8.0" text-anchor="end">LPS+PGE<tspan font-size="5.6" dx="0.4" dy="2.4">2</tspan><tspan dy="-2.4"> 50nM</tspan></text><line x1="41.5" y1="334.1" x2="41.5" y2="400.5" stroke="#1a1a1a" stroke-width="1.1"/><line x1="41" y1="400" x2="136.5" y2="400" stroke="#1a1a1a" stroke-width="1.35"/><path d="M71.1,351.5 L71.1,349 L117.2,349 L117.2,351.5" fill="none" stroke="#1a1a1a" stroke-width="0.9"/><text x="94.3" y="348.3" font-size="6.5" text-anchor="middle">**</text><rect x="133.2" y="336.4" width="8.2" height="3.4" fill="#6aa8dc"/><text x="144" y="340.1" font-size="7.4">M-CSF</text><rect x="133.2" y="346.7" width="8.2" height="3.6" fill="#a8002b"/><text x="144" y="350.6" font-size="7.4">GM-CSF</text></g>
<g><text x="258.3" y="323.8" font-size="9.3" style="stroke:none" text-anchor="middle" textLength="25.8" lengthAdjust="spacingAndGlyphs">RGS2</text><g transform="translate(187.8,366.95) rotate(-90)" font-size="8.6" class="yl"><text x="-12" textLength="4.3" lengthAdjust="spacingAndGlyphs">2</text><path d="M-6.7,-2.7 L-5.25,-6.3 L-3.8,-2.7" fill="none" stroke="#1a1a1a" stroke-width="1"/><text x="-1.6" textLength="2" lengthAdjust="spacingAndGlyphs">-</text><text x="0.1" textLength="11.9" lengthAdjust="spacingAndGlyphs">dCT</text></g><line x1="207.7" y1="400" x2="210.5" y2="400" stroke="#1a1a1a" stroke-width="0.9"/><text x="204.7" y="402.6" font-size="7.7" text-anchor="end">0.0</text><line x1="207.7" y1="378.9" x2="210.5" y2="378.9" stroke="#1a1a1a" stroke-width="0.9"/><text x="204.7" y="381.5" font-size="7.7" text-anchor="end">0.2</text><line x1="207.7" y1="357.8" x2="210.5" y2="357.8" stroke="#1a1a1a" stroke-width="0.9"/><text x="204.7" y="360.4" font-size="7.7" text-anchor="end">0.4</text><line x1="207.7" y1="336.7" x2="210.5" y2="336.7" stroke="#1a1a1a" stroke-width="0.9"/><text x="204.7" y="339.3" font-size="7.7" text-anchor="end">0.6</text><line x1="219" y1="395.3" x2="219" y2="396.3" stroke="#1a1a1a" stroke-width="0.75"/><line x1="217.2" y1="395.3" x2="220.8" y2="395.3" stroke="#1a1a1a" stroke-width="1"/><rect x="215.6" y="396.3" width="6.8" height="3.7" fill="#6aa8dc"/><line x1="219" y1="400" x2="219" y2="403.2" stroke="#1a1a1a" stroke-width="1"/><text transform="translate(222.6,408.6) rotate(-45)" font-size="8.0" text-anchor="end"><tspan textLength="19" lengthAdjust="spacingAndGlyphs">Naive</tspan></text><line x1="229.1" y1="394.7" x2="229.1" y2="396.3" stroke="#1a1a1a" stroke-width="0.75"/><line x1="227.3" y1="394.7" x2="230.9" y2="394.7" stroke="#1a1a1a" stroke-width="1"/><rect x="225.7" y="396.3" width="6.8" height="3.7" fill="#6aa8dc"/><line x1="229.1" y1="400" x2="229.1" y2="403.2" stroke="#1a1a1a" stroke-width="1"/><text transform="translate(232.7,408.6) rotate(-45)" font-size="8.0" text-anchor="end">LPS</text><line x1="239.2" y1="342.3" x2="239.2" y2="358.7" stroke="#1a1a1a" stroke-width="0.75"/><line x1="237.4" y1="342.3" x2="241" y2="342.3" stroke="#1a1a1a" stroke-width="1"/><rect x="235.8" y="358.7" width="6.8" height="41.3" fill="#6aa8dc"/><line x1="239.2" y1="400" x2="239.2" y2="403.2" stroke="#1a1a1a" stroke-width="1"/><text transform="translate(242.8,408.6) rotate(-45)" font-size="8.0" text-anchor="end">LPS+Ado 50μM</text><line x1="249.3" y1="345.7" x2="249.3" y2="358" stroke="#1a1a1a" stroke-width="0.75"/><line x1="247.5" y1="345.7" x2="251.1" y2="345.7" stroke="#1a1a1a" stroke-width="1"/><rect x="245.9" y="358" width="6.8" height="42" fill="#6aa8dc"/><line x1="249.3" y1="400" x2="249.3" y2="403.2" stroke="#1a1a1a" stroke-width="1"/><text transform="translate(252.9,408.6) rotate(-45)" font-size="8.0" text-anchor="end">LPS+PGE<tspan font-size="5.6" dx="0.4" dy="2.4">2</tspan><tspan dy="-2.4"> 50nM</tspan></text><rect x="263.3" y="399.5" width="6.8" height="0.5" fill="#a8002b"/><line x1="266.7" y1="400" x2="266.7" y2="403.2" stroke="#1a1a1a" stroke-width="1"/><text transform="translate(270.3,408.6) rotate(-45)" font-size="8.0" text-anchor="end"><tspan textLength="19" lengthAdjust="spacingAndGlyphs">Naive</tspan></text><rect x="273.4" y="399.7" width="6.8" height="0.3" fill="#a8002b"/><line x1="276.8" y1="400" x2="276.8" y2="403.2" stroke="#1a1a1a" stroke-width="1"/><text transform="translate(280.4,408.6) rotate(-45)" font-size="8.0" text-anchor="end">LPS</text><rect x="283.5" y="399" width="6.8" height="1" fill="#a8002b"/><line x1="286.9" y1="400" x2="286.9" y2="403.2" stroke="#1a1a1a" stroke-width="1"/><text transform="translate(290.5,408.6) rotate(-45)" font-size="8.0" text-anchor="end">LPS+Ado 50μM</text><line x1="297" y1="397" x2="297" y2="397.6" stroke="#1a1a1a" stroke-width="0.75"/><line x1="295.2" y1="397" x2="298.8" y2="397" stroke="#1a1a1a" stroke-width="1"/><rect x="293.6" y="397.6" width="6.8" height="2.4" fill="#a8002b"/><line x1="297" y1="400" x2="297" y2="403.2" stroke="#1a1a1a" stroke-width="1"/><text transform="translate(300.6,408.6) rotate(-45)" font-size="8.0" text-anchor="end">LPS+PGE<tspan font-size="5.6" dx="0.4" dy="2.4">2</tspan><tspan dy="-2.4"> 50nM</tspan></text><line x1="210.5" y1="334.1" x2="210.5" y2="400.5" stroke="#1a1a1a" stroke-width="1.1"/><line x1="210" y1="400" x2="305.5" y2="400" stroke="#1a1a1a" stroke-width="1.35"/><path d="M239.2,339.8 L239.2,337.3 L286.7,337.3 L286.7,339.8" fill="none" stroke="#1a1a1a" stroke-width="0.9"/><text x="262.7" y="337.4" font-size="6.5" text-anchor="middle">**</text><path d="M249.6,345.7 L249.6,343.4 L296.3,343.4 L296.3,345.7" fill="none" stroke="#1a1a1a" stroke-width="0.9"/><text x="272.7" y="344.1" font-size="6.5" text-anchor="middle">**</text><rect x="302.2" y="336.4" width="8.2" height="3.4" fill="#6aa8dc"/><text x="313" y="340.1" font-size="7.4">M-CSF</text><rect x="302.2" y="346.7" width="8.2" height="3.6" fill="#a8002b"/><text x="313" y="350.6" font-size="7.4">GM-CSF</text></g>
<g><text x="429" y="323.8" font-size="9.3" style="stroke:none" text-anchor="middle" textLength="21.8" lengthAdjust="spacingAndGlyphs">TGFa</text><g transform="translate(353.9,366.95) rotate(-90)" font-size="8.6" class="yl"><text x="-12" textLength="4.3" lengthAdjust="spacingAndGlyphs">2</text><path d="M-6.7,-2.7 L-5.25,-6.3 L-3.8,-2.7" fill="none" stroke="#1a1a1a" stroke-width="1"/><text x="-1.6" textLength="2" lengthAdjust="spacingAndGlyphs">-</text><text x="0.1" textLength="11.9" lengthAdjust="spacingAndGlyphs">dCT</text></g><line x1="378.7" y1="400" x2="381.5" y2="400" stroke="#1a1a1a" stroke-width="0.9"/><text x="375.7" y="402.6" font-size="7.7" text-anchor="end">0.00</text><line x1="378.7" y1="384.18" x2="381.5" y2="384.18" stroke="#1a1a1a" stroke-width="0.9"/><text x="375.7" y="386.78" font-size="7.7" text-anchor="end">0.01</text><line x1="378.7" y1="368.35" x2="381.5" y2="368.35" stroke="#1a1a1a" stroke-width="0.9"/><text x="375.7" y="370.95" font-size="7.7" text-anchor="end">0.02</text><line x1="378.7" y1="352.52" x2="381.5" y2="352.52" stroke="#1a1a1a" stroke-width="0.9"/><text x="375.7" y="355.12" font-size="7.7" text-anchor="end">0.03</text><line x1="378.7" y1="336.7" x2="381.5" y2="336.7" stroke="#1a1a1a" stroke-width="0.9"/><text x="375.7" y="339.3" font-size="7.7" text-anchor="end">0.04</text><line x1="390" y1="398.9" x2="390" y2="399.4" stroke="#1a1a1a" stroke-width="0.75"/><line x1="388.2" y1="398.9" x2="391.8" y2="398.9" stroke="#1a1a1a" stroke-width="1"/><rect x="386.6" y="399.4" width="6.8" height="0.6" fill="#6aa8dc"/><line x1="390" y1="400" x2="390" y2="403.2" stroke="#1a1a1a" stroke-width="1"/><text transform="translate(393.6,408.6) rotate(-45)" font-size="8.0" text-anchor="end"><tspan textLength="19" lengthAdjust="spacingAndGlyphs">Naive</tspan></text><line x1="400.1" y1="399" x2="400.1" y2="399.5" stroke="#1a1a1a" stroke-width="0.75"/><line x1="398.3" y1="399" x2="401.9" y2="399" stroke="#1a1a1a" stroke-width="1"/><rect x="396.7" y="399.5" width="6.8" height="0.5" fill="#6aa8dc"/><line x1="400.1" y1="400" x2="400.1" y2="403.2" stroke="#1a1a1a" stroke-width="1"/><text transform="translate(403.7,408.6) rotate(-45)" font-size="8.0" text-anchor="end">LPS</text><line x1="410.2" y1="352.8" x2="410.2" y2="365.5" stroke="#1a1a1a" stroke-width="0.75"/><line x1="408.4" y1="352.8" x2="412" y2="352.8" stroke="#1a1a1a" stroke-width="1"/><rect x="406.8" y="365.5" width="6.8" height="34.5" fill="#6aa8dc"/><line x1="410.2" y1="400" x2="410.2" y2="403.2" stroke="#1a1a1a" stroke-width="1"/><text transform="translate(413.8,408.6) rotate(-45)" font-size="8.0" text-anchor="end">LPS+Ado 50μM</text><line x1="420.3" y1="376.5" x2="420.3" y2="381.6" stroke="#1a1a1a" stroke-width="0.75"/><line x1="418.5" y1="376.5" x2="422.1" y2="376.5" stroke="#1a1a1a" stroke-width="1"/><rect x="416.9" y="381.6" width="6.8" height="18.4" fill="#6aa8dc"/><line x1="420.3" y1="400" x2="420.3" y2="403.2" stroke="#1a1a1a" stroke-width="1"/><text transform="translate(423.9,408.6) rotate(-45)" font-size="8.0" text-anchor="end">LPS+PGE<tspan font-size="5.6" dx="0.4" dy="2.4">2</tspan><tspan dy="-2.4"> 50nM</tspan></text><line x1="437.7" y1="393" x2="437.7" y2="395.3" stroke="#1a1a1a" stroke-width="0.75"/><line x1="435.9" y1="393" x2="439.5" y2="393" stroke="#1a1a1a" stroke-width="1"/><rect x="434.3" y="395.3" width="6.8" height="4.7" fill="#a8002b"/><line x1="437.7" y1="400" x2="437.7" y2="403.2" stroke="#1a1a1a" stroke-width="1"/><text transform="translate(441.3,408.6) rotate(-45)" font-size="8.0" text-anchor="end"><tspan textLength="19" lengthAdjust="spacingAndGlyphs">Naive</tspan></text><line x1="447.8" y1="396.3" x2="447.8" y2="397.3" stroke="#1a1a1a" stroke-width="0.75"/><line x1="446" y1="396.3" x2="449.6" y2="396.3" stroke="#1a1a1a" stroke-width="1"/><rect x="444.4" y="397.3" width="6.8" height="2.7" fill="#a8002b"/><line x1="447.8" y1="400" x2="447.8" y2="403.2" stroke="#1a1a1a" stroke-width="1"/><text transform="translate(451.4,408.6) rotate(-45)" font-size="8.0" text-anchor="end">LPS</text><line x1="457.9" y1="376.3" x2="457.9" y2="384" stroke="#1a1a1a" stroke-width="0.75"/><line x1="456.1" y1="376.3" x2="459.7" y2="376.3" stroke="#1a1a1a" stroke-width="1"/><rect x="454.5" y="384" width="6.8" height="16" fill="#a8002b"/><line x1="457.9" y1="400" x2="457.9" y2="403.2" stroke="#1a1a1a" stroke-width="1"/><text transform="translate(461.5,408.6) rotate(-45)" font-size="8.0" text-anchor="end">LPS+Ado 50μM</text><line x1="468" y1="369.7" x2="468" y2="376.3" stroke="#1a1a1a" stroke-width="0.75"/><line x1="466.2" y1="369.7" x2="469.8" y2="369.7" stroke="#1a1a1a" stroke-width="1"/><rect x="464.6" y="376.3" width="6.8" height="23.7" fill="#a8002b"/><line x1="468" y1="400" x2="468" y2="403.2" stroke="#1a1a1a" stroke-width="1"/><text transform="translate(471.6,408.6) rotate(-45)" font-size="8.0" text-anchor="end">LPS+PGE<tspan font-size="5.6" dx="0.4" dy="2.4">2</tspan><tspan dy="-2.4"> 50nM</tspan></text><line x1="381.5" y1="334.1" x2="381.5" y2="400.5" stroke="#1a1a1a" stroke-width="1.1"/><line x1="381" y1="400" x2="476.5" y2="400" stroke="#1a1a1a" stroke-width="1.35"/><rect x="473.2" y="336.4" width="8.2" height="3.4" fill="#6aa8dc"/><text x="484" y="340.1" font-size="7.4">M-CSF</text><rect x="473.2" y="346.7" width="8.2" height="3.6" fill="#a8002b"/><text x="484" y="350.6" font-size="7.4">GM-CSF</text></g>
<rect x="0.5" y="0.5" width="519" height="461" fill="none" stroke="#000" stroke-width="1.2"/>
</svg>
</body></html>
